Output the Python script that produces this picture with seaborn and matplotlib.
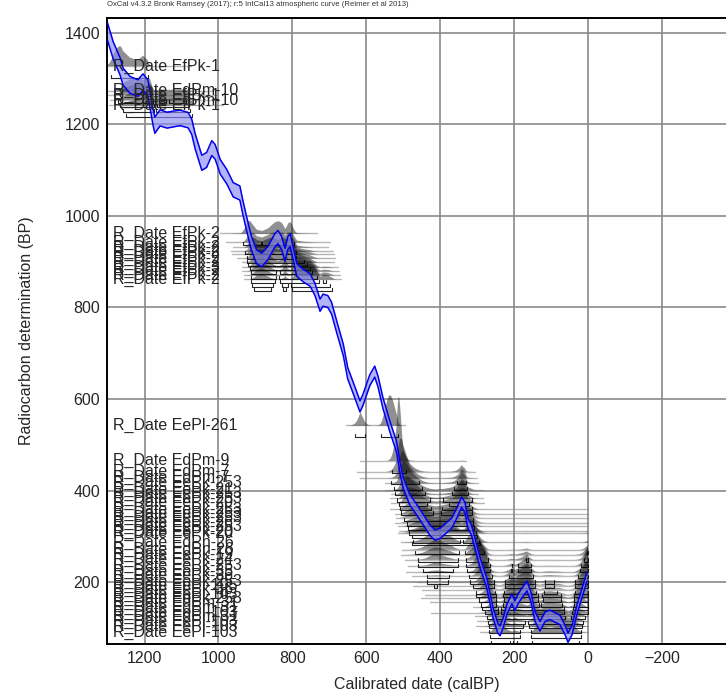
import numpy as np
import pandas as pd
import matplotlib
matplotlib.use('Agg')
from matplotlib import pyplot as plt
from matplotlib.ticker import MultipleLocator
import seaborn as sns

# calibration curve section, cal BP -> 14C BP
curve_cal = [1300, 1285, 1266, 1258, 1239, 1218, 1204, 1191, 1185, 1177, 1172, 1158, 1139, 1104,
             1082, 1072, 1063, 1045, 1032, 1018, 1009, 995, 977, 960, 942, 934, 924, 911, 897,
             883, 866, 847, 839, 829, 820, 812, 806, 798, 788, 771, 752, 739, 725, 717, 704,
             694, 680, 662, 650, 630, 617, 609, 590, 577, 568, 555, 536, 518, 509, 500, 482,
             463, 445, 428, 414, 400, 382, 369, 355, 342, 333, 325, 315, 306, 292, 274, 257,
             244, 238, 230, 219, 206, 198, 189, 176, 165, 155, 143, 130, 116, 103, 89, 76, 62,
             54, 43, 30, 16, 3]
curve_bp = [1402, 1362, 1326, 1304, 1286, 1279, 1292, 1279, 1253, 1216, 1198, 1214, 1209, 1214,
            1209, 1194, 1163, 1116, 1122, 1148, 1140, 1107, 1085, 1057, 1050, 1019, 984, 941, 911,
            904, 919, 947, 954, 941, 915, 941, 947, 919, 882, 870, 860, 840, 805, 816, 813,
            799, 758, 707, 656, 613, 584, 598, 642, 660, 638, 592, 540, 496, 452, 417, 380,
            358, 336, 314, 303, 307, 320, 329, 351, 375, 364, 329, 314, 286, 243, 199, 134,
            100, 94, 110, 142, 164, 149, 164, 180, 192, 170, 125, 104, 125, 129, 123, 118, 96,
            79, 96, 140, 177, 212]
err_cal = [1300, 1000, 600, 0]
err_val = [19, 16, 12, 10]

# radiocarbon dates
date_names = ['EfPk-1', 'EdPm-10', 'EfPk-1', 'EdPm-10', 'EfPk-1',
              'EfPk-2', 'EfPk-2', 'EfPk-2', 'EfPk-2', 'EfPk-3', 'EfPk-2', 'EfPk-2', 'EfPk-3',
              'EfPk-2', 'EfPk-2', 'EfPk-2',
              'EePl-261',
              'EdPm-9', 'EdPm-7', 'EdPm-7', 'EePk-253', 'EePk-21', 'EePk-253', 'EePk-253',
              'EePk-20', 'EePk-253', 'EePk-253', 'EePk-253', 'EePk-26', 'EePk-253', 'EePk-20',
              'EePk-20', 'EdPn-26', 'EdPn-26', 'EePk-19', 'EePk-24', 'EePk-253', 'EePk-35',
              'EePk-36', 'EePk-253', 'EePl-105', 'EePk-36', 'EePl-103', 'EePk-253', 'EdPm-31',
              'EdPm-31', 'EePl-103', 'EdPm-31', 'EePl-103', 'EePl-103', 'EePl-103']
date_bp = [1327, 1273, 1264, 1253, 1242,
           962, 943, 932, 923, 917, 908, 899, 888, 880, 871, 862,
           543,
           465, 441, 428, 417, 402, 393, 383, 374, 359, 350, 341, 330, 322, 311, 307,
           287, 271, 260, 249, 236, 223, 214, 201, 193, 184, 173, 165, 156, 145, 134,
           126, 115, 104, 91]
date_err = [25, 25, 30, 25, 30,
            30, 30, 25, 30, 30, 30, 25, 30, 30, 30, 30,
            30,
            25, 35, 35, 35, 40, 30, 35, 35, 40, 35, 35, 40, 35, 35, 40,
            35, 35, 40, 35, 35, 40, 35, 35, 40, 35, 35, 40, 35, 35, 40,
            35, 35, 40, 35]

sns.set_style('white')
plt.rcParams['font.family'] = ['Liberation Sans', 'DejaVu Sans']

fig = plt.figure(figsize=(7.26, 7.0), dpi=100)
ax = fig.add_axes([107 / 726, 56 / 700, 619 / 726, 626 / 700])

t = np.arange(0, 1301, 1.0)
mu = np.interp(t, curve_cal[::-1], curve_bp[::-1])
sig = np.interp(t, err_cal[::-1], err_val[::-1])


def hpd(p, level):
    order = np.argsort(p)[::-1]
    c = np.cumsum(p[order]) / p.sum()
    idx = np.sort(order[:np.searchsorted(c, level) + 1])
    gaps = np.where(np.diff(idx) > 3)[0]
    starts = np.r_[idx[0], idx[gaps + 1]]
    ends = np.r_[idx[gaps], idx[-1]]
    return [(t[s], t[e]) for s, e in zip(starts, ends)]


for name, bp, e in zip(date_names, date_bp, date_err):
    s2 = e ** 2 + sig ** 2
    p = np.exp(-(bp - mu) ** 2 / (2 * s2)) / np.sqrt(s2)
    p = p / p.sum()
    wide = t[p / p.max() > 1e-4]
    ax.plot([wide.min(), wide.max()], [bp, bp], color='#808080', lw=1, alpha=0.55, zorder=2)
    ax.fill_between(t, bp, bp + 2500 * p, where=p / p.max() > 1e-3,
                    color='#0a0a0a', alpha=0.45, lw=0, zorder=3)
    for a, b in hpd(p, 0.954):
        ax.plot([a, a, b, b], [bp - 19, bp - 26, bp - 26, bp - 19], color='k', lw=0.8,
                alpha=0.85, zorder=4)
    ax.text(1285, bp, 'R_Date ' + name, fontsize=11.5, va='center', ha='left', zorder=6)

# calibration curve band
band = pd.DataFrame({'cal': curve_cal, 'bp': curve_bp})
band['err'] = np.interp(band['cal'], err_cal[::-1], err_val[::-1])
ax.fill_between(band['cal'], band['bp'] - band['err'], band['bp'] + band['err'],
                color='#8a8af5', alpha=0.65, lw=0, zorder=5)
edges = pd.concat([
    pd.DataFrame({'cal': band['cal'], 'bp': band['bp'] + band['err'], 'edge': 'upper'}),
    pd.DataFrame({'cal': band['cal'], 'bp': band['bp'] - band['err'], 'edge': 'lower'}),
])
sns.lineplot(data=edges, x='cal', y='bp', hue='edge', palette=['#0000ee', '#0000ee'],
             lw=1.1, legend=False, ax=ax, zorder=5, estimator=None, sort=True)

ax.set_xlim(1301.5, -373.5)
ax.set_ylim(65.3, 1432)
ax.xaxis.set_major_locator(MultipleLocator(200))
ax.xaxis.set_minor_locator(MultipleLocator(20))
ax.yaxis.set_major_locator(MultipleLocator(200))
ax.yaxis.set_minor_locator(MultipleLocator(20))
ax.tick_params(which='both', direction='in', labelsize=11.5, color='k')
ax.tick_params(which='major', length=5, width=1, pad=5)
ax.tick_params(which='minor', length=3, width=0.8)
ax.tick_params(axis='x', which='both', top=False)
ax.tick_params(axis='y', which='both', right=False)
ax.grid(True, which='major', color='#8a8a8a', lw=1.2, zorder=0)
ax.set_axisbelow(True)
for side in ['left', 'bottom', 'top']:
    ax.spines[side].set_color('k')
    ax.spines[side].set_linewidth(1.4)
ax.spines['right'].set_visible(False)

ax.set_xlabel('Calibrated date (calBP)', fontsize=11.5, labelpad=8)
ax.set_ylabel('Radiocarbon determination (BP)', fontsize=11.5, labelpad=22)
fig.text(107 / 726, 1 - 5 / 700,
         'OxCal v4.3.2 Bronk Ramsey (2017); r:5 IntCal13 atmospheric curve (Reimer et al 2013)',
         fontsize=5.6, va='center', ha='left', color='#333333')

fig.savefig('out.png', dpi=100)
